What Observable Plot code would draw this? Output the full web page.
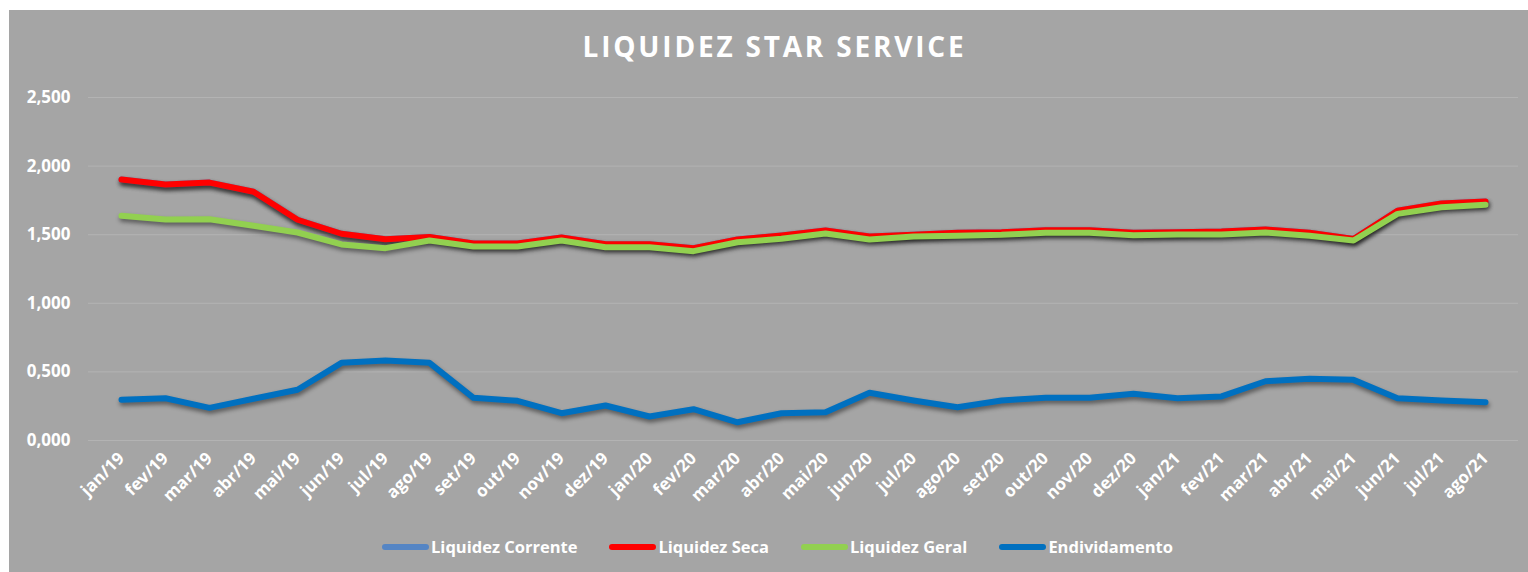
<!DOCTYPE html>
<html><head><meta charset="utf-8">
<script src="https://cdn.jsdelivr.net/npm/d3@7"></script>
<script src="https://cdn.jsdelivr.net/npm/@observablehq/plot@0.6"></script>
<style>
html,body{margin:0;padding:0;background:#fff;}
#panel{position:absolute;left:9px;top:10px;width:1519px;height:562px;background:#a5a5a5;font-family:"Open Sans",sans-serif;color:#fff;overflow:hidden;}
#title{position:absolute;top:17px;left:0;width:100%;text-align:center;font-size:28px;font-weight:700;letter-spacing:2.8px;padding-left:12px;box-sizing:border-box;}
#chart{position:absolute;left:0;top:70px;}
#legend{position:absolute;top:525px;left:0;width:100%;display:flex;justify-content:center;gap:32px;font-size:16.5px;font-weight:700;padding-left:18px;box-sizing:border-box;}
.item{display:flex;align-items:center;gap:2px;}
.sw{width:47px;height:6px;border-radius:3px;}
#chart g[aria-label="line"]{filter:drop-shadow(1px 3px 2px rgba(0,0,0,0.45));}
</style></head><body>
<div id="panel"><div id="title">LIQUIDEZ STAR SERVICE</div><div id="chart"></div><div id="legend"></div></div>
<script>
const months = ["jan/19","fev/19","mar/19","abr/19","mai/19","jun/19","jul/19","ago/19","set/19","out/19","nov/19","dez/19",
  "jan/20","fev/20","mar/20","abr/20","mai/20","jun/20","jul/20","ago/20","set/20","out/20","nov/20","dez/20",
  "jan/21","fev/21","mar/21","abr/21","mai/21","jun/21","jul/21","ago/21"];
const liquidezCorrente = [1.902,1.866,1.880,1.813,1.609,1.507,1.467,1.484,1.436,1.436,1.480,1.431,
  1.431,1.402,1.465,1.494,1.530,1.487,1.500,1.514,1.517,1.532,1.532,1.514,
  1.517,1.523,1.538,1.514,1.469,1.674,1.727,1.742];
const liquidezSeca = [1.902,1.866,1.880,1.813,1.609,1.507,1.467,1.484,1.436,1.436,1.480,1.431,
  1.431,1.402,1.465,1.494,1.530,1.487,1.500,1.514,1.517,1.532,1.532,1.514,
  1.517,1.523,1.538,1.514,1.469,1.674,1.727,1.742];
const liquidezGeral = [1.638,1.611,1.613,1.565,1.516,1.429,1.402,1.458,1.414,1.414,1.458,1.409,
  1.409,1.380,1.445,1.470,1.509,1.465,1.487,1.492,1.499,1.514,1.514,1.496,
  1.501,1.501,1.516,1.492,1.458,1.652,1.700,1.718];
const endividamento = [0.297,0.308,0.238,0.304,0.370,0.566,0.583,0.566,0.311,0.289,0.199,0.255,
  0.175,0.228,0.133,0.199,0.206,0.348,0.292,0.243,0.292,0.311,0.311,0.340,
  0.308,0.321,0.432,0.450,0.442,0.308,0.292,0.279];
const yTicks = [0, 0.5, 1, 1.5, 2, 2.5];
const seriesNames = ["Liquidez Corrente","Liquidez Seca","Liquidez Geral","Endividamento"];
const seriesColors = ["#5585c4","#ff0000","#92d050","#0070c0"];
const seriesValues = [liquidezCorrente, liquidezSeca, liquidezGeral, endividamento];

const fmt = d => d3.format(".3f")(d).replace(".", ",");

const lineMarks = seriesValues.map((vals, k) =>
  Plot.line(vals, {x: (d, i) => months[i], y: d => d, stroke: seriesColors[k], strokeWidth: 6,
    strokeLinecap: "round", strokeLinejoin: "round"}));

const chart = Plot.plot({
  width: 1519,
  height: 430,
  marginLeft: 79,
  marginRight: 10,
  marginTop: 17,
  marginBottom: 70,
  style: {background: "transparent", color: "white", fontFamily: "Open Sans", fontSize: "17px", fontWeight: "bold", overflow: "visible"},
  x: {type: "point", domain: months, padding: 0.5, tickSize: 0, tickPadding: 15, tickRotate: -45, label: null},
  y: {domain: [0, 2.5], ticks: yTicks, tickFormat: fmt, tickSize: 0, tickPadding: 18, label: null},
  marks: [
    Plot.ruleY(yTicks, {stroke: "#b3b3b3", strokeWidth: 1}),
    ...lineMarks
  ]
});
document.getElementById("chart").appendChild(chart);

const legend = document.getElementById("legend");
seriesNames.forEach((n, k) => {
  const it = document.createElement("div");
  it.className = "item";
  const sw = document.createElement("span");
  sw.className = "sw";
  sw.style.background = seriesColors[k];
  const t = document.createElement("span");
  t.textContent = n;
  it.appendChild(sw); it.appendChild(t);
  legend.appendChild(it);
});
</script>
</body></html>
